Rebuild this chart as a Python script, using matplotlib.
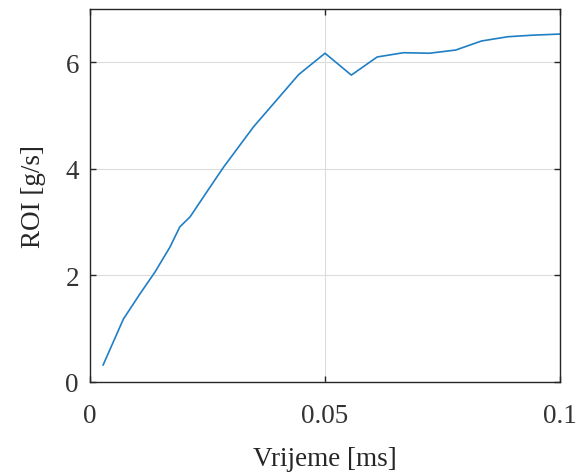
#!/usr/bin/env python3

import matplotlib
matplotlib.use("Agg")
import matplotlib.pyplot as plt

# rate of injection over time
vrijeme = [0.0028, 0.0071, 0.0106, 0.0138, 0.0170, 0.0191, 0.0213, 0.0248,
           0.0284, 0.0348, 0.0444, 0.0500, 0.0556, 0.0611, 0.0667, 0.0722,
           0.0778, 0.0833, 0.0889, 0.0944, 0.1000]
roi = [0.32, 1.18, 1.65, 2.06, 2.53, 2.91, 3.10, 3.56,
       4.03, 4.79, 5.77, 6.17, 5.76, 6.10, 6.18, 6.17,
       6.23, 6.40, 6.48, 6.51, 6.53]

x_ticks = [0, 0.05, 0.1]
x_labels = ["0", "0.05", "0.1"]
y_ticks = [0, 2, 4, 6]

plt.rcParams["font.family"] = ["Liberation Serif", "DejaVu Serif"]

fig = plt.figure(figsize=(5.81, 4.77), dpi=100)
ax = fig.add_axes([0.1549, 0.1971, 0.809, 0.7819])

ax.plot(vrijeme, roi, color="#1f7fc4", linewidth=1.2)

ax.set_xlim(0, 0.1)
ax.set_ylim(0, 7)
ax.set_xticks(x_ticks)
ax.set_xticklabels(x_labels)
ax.set_yticks(y_ticks)
ax.grid(True, color="#dcdcdc", linewidth=0.8)
ax.set_axisbelow(True)

for s in ax.spines.values():
    s.set_color("#262626")
    s.set_linewidth(1.0)
ax.tick_params(direction="in", length=4, width=1.0, color="#262626",
               top=True, right=True, labelsize=19.5, labelcolor="#333333")
ax.tick_params(axis="x", pad=15)
ax.tick_params(axis="y", pad=8)

ax.set_xlabel("Vrijeme [ms]", fontsize=19.5, color="#262626", labelpad=13)
ax.set_ylabel("ROI [g/s]", fontsize=19.5, color="#262626", labelpad=14)

fig.savefig("out.png", dpi=100)
